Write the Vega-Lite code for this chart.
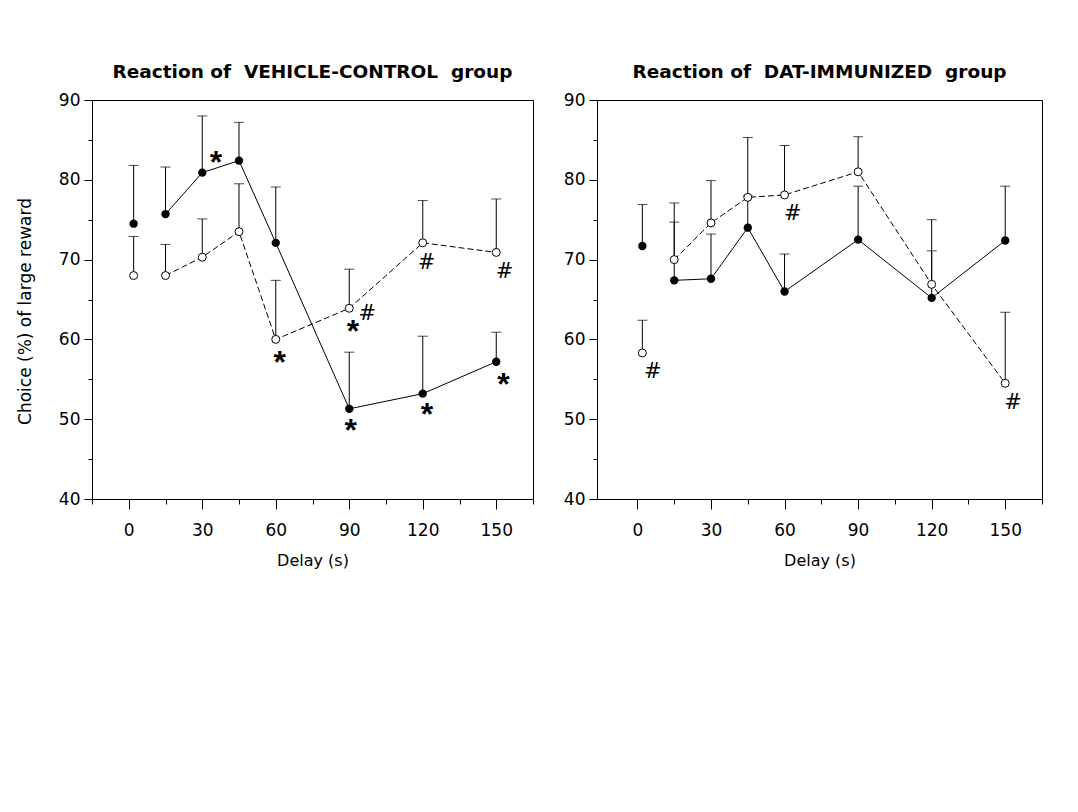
{
  "$schema": "https://vega.github.io/schema/vega-lite/v6.json",
  "background": "white",
  "padding": {"left": 15, "top": 62, "right": 5, "bottom": 5},
  "spacing": 28,
  "config": {
    "view": {"stroke": "black", "strokeWidth": 1},
    "axis": {"grid": false, "domainColor": "black", "domainWidth": 1, "tickColor": "black", "tickWidth": 1, "labelColor": "black", "labelFont": "DejaVu Sans", "labelFontSize": 17, "titleFont": "DejaVu Sans", "titleFontWeight": "normal", "titleColor": "black"},
    "title": {"font": "DejaVu Sans", "fontSize": 18.5, "fontWeight": "bold", "color": "black", "anchor": "middle", "offset": 10}
  },
  "hconcat": [
    {
      "width": 441,
      "height": 399,
      "title": "Reaction of\u00a0 VEHICLE-CONTROL\u00a0 group",
      "data": {"values": [
        {"group": "filled", "delay": 2, "value": 74.5, "upper": 81.8},
        {"group": "filled", "delay": 15, "value": 75.7, "upper": 81.6},
        {"group": "filled", "delay": 30, "value": 80.9, "upper": 88.0},
        {"group": "filled", "delay": 45, "value": 82.4, "upper": 87.2},
        {"group": "filled", "delay": 60, "value": 72.1, "upper": 79.1},
        {"group": "filled", "delay": 90, "value": 51.3, "upper": 58.4},
        {"group": "filled", "delay": 120, "value": 53.2, "upper": 60.4},
        {"group": "filled", "delay": 150, "value": 57.2, "upper": 60.9},
        {"group": "open", "delay": 2, "value": 68.0, "upper": 72.9},
        {"group": "open", "delay": 15, "value": 68.0, "upper": 71.9},
        {"group": "open", "delay": 30, "value": 70.3, "upper": 75.1},
        {"group": "open", "delay": 45, "value": 73.5, "upper": 79.5},
        {"group": "open", "delay": 60, "value": 60.0, "upper": 67.4},
        {"group": "open", "delay": 90, "value": 63.9, "upper": 68.8},
        {"group": "open", "delay": 120, "value": 72.1, "upper": 77.4},
        {"group": "open", "delay": 150, "value": 70.9, "upper": 77.6}
      ]},
      "encoding": {
        "x": {"field": "delay", "type": "quantitative", "scale": {"domain": [-15, 165], "nice": false, "zero": false},
          "axis": {"title": "Delay (s)", "titleFontSize": 16, "titlePadding": 14, "values": [-15, 0, 15, 30, 45, 60, 75, 90, 105, 120, 135, 150, 165],
            "labelExpr": "datum.value % 30 === 0 && datum.value >= 0 ? datum.label : ''",
            "tickSize": {"condition": {"test": "datum.value % 30 === 0", "value": 10}, "value": 5}, "labelPadding": 13, "labelFlush": false, "labelOverlap": false}},
        "y": {"field": "value", "type": "quantitative", "scale": {"domain": [40, 90], "nice": false, "zero": false},
          "axis": {"title": "Choice (%) of large reward", "titleFontSize": 17, "titlePadding": 24, "titleY": 211, "values": [40, 45, 50, 55, 60, 65, 70, 75, 80, 85, 90],
            "labelExpr": "datum.value % 10 === 0 ? datum.label : ''",
            "tickSize": {"condition": {"test": "datum.value % 10 === 0", "value": 8}, "value": 4}, "labelPadding": 4, "labelFlush": false, "labelOverlap": false}}
      },
      "layer": [
        {"mark": {"type": "rule", "color": "black", "strokeWidth": 1}, "encoding": {"y2": {"field": "upper"}}},
        {"mark": {"type": "tick", "orient": "horizontal", "color": "black", "thickness": 1, "size": 10},
          "encoding": {"y": {"field": "upper", "type": "quantitative", "scale": {"domain": [40, 90], "nice": false, "zero": false},
            "axis": {"title": "Choice (%) of large reward", "titleFontSize": 17, "titlePadding": 24, "titleY": 211, "values": [40, 45, 50, 55, 60, 65, 70, 75, 80, 85, 90],
            "labelExpr": "datum.value % 10 === 0 ? datum.label : ''",
            "tickSize": {"condition": {"test": "datum.value % 10 === 0", "value": 8}, "value": 4}, "labelPadding": 4, "labelFlush": false, "labelOverlap": false}}}},
        {"transform": [{"filter": "datum.group === 'filled' && datum.delay >= 15"}],
          "mark": {"type": "line", "color": "black", "strokeWidth": 1}},
        {"transform": [{"filter": "datum.group === 'open' && datum.delay >= 15"}],
          "mark": {"type": "line", "color": "black", "strokeWidth": 1, "strokeDash": [6, 3]}},
        {"transform": [{"filter": "datum.group === 'filled'"}],
          "mark": {"type": "point", "shape": "circle", "filled": true, "color": "black", "size": 70, "opacity": 1}},
        {"transform": [{"filter": "datum.group === 'open'"}],
          "mark": {"type": "point", "shape": "circle", "fill": "white", "fillOpacity": 1, "stroke": "black", "strokeWidth": 1, "size": 64, "opacity": 1}},
        {"data": {"values": [
          {"delay": 35.6, "value": 82.7, "sym": "*"},
          {"delay": 61.6, "value": 57.7, "sym": "*"},
          {"delay": 91.5, "value": 61.6, "sym": "*"},
          {"delay": 90.6, "value": 49.2, "sym": "*"},
          {"delay": 121.7, "value": 51.2, "sym": "*"},
          {"delay": 152.9, "value": 54.9, "sym": "*"}
        ]},
          "mark": {"type": "text", "font": "Liberation Sans", "fontSize": 32, "fontWeight": "bold", "baseline": "middle", "align": "center", "dy": 5, "color": "black"},
          "encoding": {"text": {"field": "sym"}}},
        {"data": {"values": [
          {"delay": 97.4, "value": 63.3, "sym": "#"},
          {"delay": 121.5, "value": 69.7, "sym": "#"},
          {"delay": 153.4, "value": 68.6, "sym": "#"}
        ]},
          "mark": {"type": "text", "font": "DejaVu Sans", "fontSize": 21, "baseline": "middle", "align": "center", "dy": 1, "color": "black"},
          "encoding": {"text": {"field": "sym"}}}
      ]
    },
    {
      "width": 445,
      "height": 399,
      "title": "Reaction of\u00a0 DAT-IMMUNIZED\u00a0 group",
      "data": {"values": [
        {"group": "filled", "delay": 2, "value": 71.7, "upper": 76.9},
        {"group": "filled", "delay": 15, "value": 67.4, "upper": 74.7},
        {"group": "filled", "delay": 30, "value": 67.6, "upper": 73.2},
        {"group": "filled", "delay": 45, "value": 74.0, "upper": 78.0},
        {"group": "filled", "delay": 60, "value": 66.0, "upper": 70.7},
        {"group": "filled", "delay": 90, "value": 72.5, "upper": 79.2},
        {"group": "filled", "delay": 120, "value": 65.2, "upper": 71.1},
        {"group": "filled", "delay": 150, "value": 72.4, "upper": 79.2},
        {"group": "open", "delay": 2, "value": 58.3, "upper": 62.4},
        {"group": "open", "delay": 15, "value": 70.0, "upper": 77.1},
        {"group": "open", "delay": 30, "value": 74.6, "upper": 79.9},
        {"group": "open", "delay": 45, "value": 77.8, "upper": 85.3},
        {"group": "open", "delay": 60, "value": 78.1, "upper": 84.3},
        {"group": "open", "delay": 90, "value": 81.0, "upper": 85.4},
        {"group": "open", "delay": 120, "value": 66.9, "upper": 75.0},
        {"group": "open", "delay": 150, "value": 54.5, "upper": 63.4}
      ]},
      "encoding": {
        "x": {"field": "delay", "type": "quantitative", "scale": {"domain": [-16.5, 165], "nice": false, "zero": false},
          "axis": {"title": "Delay (s)", "titleFontSize": 16, "titlePadding": 14, "values": [0, 15, 30, 45, 60, 75, 90, 105, 120, 135, 150, 165],
            "labelExpr": "datum.value % 30 === 0 && datum.value >= 0 ? datum.label : ''",
            "tickSize": {"condition": {"test": "datum.value % 30 === 0", "value": 10}, "value": 5}, "labelPadding": 13, "labelFlush": false, "labelOverlap": false}},
        "y": {"field": "value", "type": "quantitative", "scale": {"domain": [40, 90], "nice": false, "zero": false},
          "axis": {"title": null, "values": [40, 45, 50, 55, 60, 65, 70, 75, 80, 85, 90],
            "labelExpr": "datum.value % 10 === 0 ? datum.label : ''",
            "tickSize": {"condition": {"test": "datum.value % 10 === 0", "value": 8}, "value": 4}, "labelPadding": 4, "labelFlush": false, "labelOverlap": false}}
      },
      "layer": [
        {"mark": {"type": "rule", "color": "black", "strokeWidth": 1}, "encoding": {"y2": {"field": "upper"}}},
        {"mark": {"type": "tick", "orient": "horizontal", "color": "black", "thickness": 1, "size": 10},
          "encoding": {"y": {"field": "upper", "type": "quantitative", "scale": {"domain": [40, 90], "nice": false, "zero": false},
            "axis": {"title": null, "values": [40, 45, 50, 55, 60, 65, 70, 75, 80, 85, 90],
            "labelExpr": "datum.value % 10 === 0 ? datum.label : ''",
            "tickSize": {"condition": {"test": "datum.value % 10 === 0", "value": 8}, "value": 4}, "labelPadding": 4, "labelFlush": false, "labelOverlap": false}}}},
        {"transform": [{"filter": "datum.group === 'filled' && datum.delay >= 15"}],
          "mark": {"type": "line", "color": "black", "strokeWidth": 1}},
        {"transform": [{"filter": "datum.group === 'open' && datum.delay >= 15"}],
          "mark": {"type": "line", "color": "black", "strokeWidth": 1, "strokeDash": [6, 3]}},
        {"transform": [{"filter": "datum.group === 'filled'"}],
          "mark": {"type": "point", "shape": "circle", "filled": true, "color": "black", "size": 70, "opacity": 1}},
        {"transform": [{"filter": "datum.group === 'open'"}],
          "mark": {"type": "point", "shape": "circle", "fill": "white", "fillOpacity": 1, "stroke": "black", "strokeWidth": 1, "size": 64, "opacity": 1}},
        {"data": {"values": [
          {"delay": 63.4, "value": 75.8, "sym": "#"},
          {"delay": 6.3, "value": 56.1, "sym": "#"},
          {"delay": 153.2, "value": 52.1, "sym": "#"}
        ]},
          "mark": {"type": "text", "font": "DejaVu Sans", "fontSize": 21, "baseline": "middle", "align": "center", "dy": 1, "color": "black"},
          "encoding": {"text": {"field": "sym"}}}
      ]
    }
  ]
}
